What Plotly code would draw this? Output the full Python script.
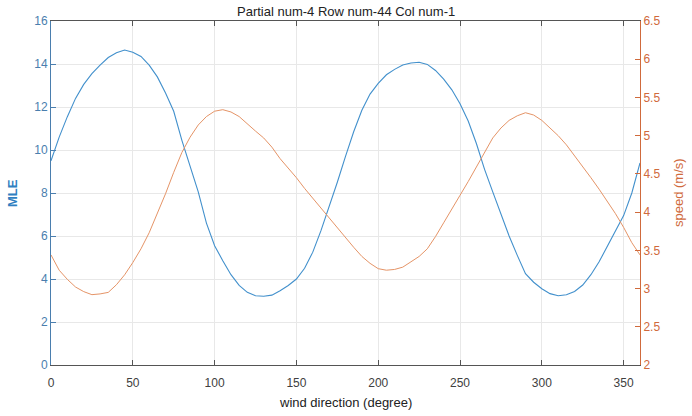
import plotly.graph_objects as go

# wind direction (degree), every 5 degrees
direction = list(range(0, 365, 5))

mle = [9.5, 10.6, 11.55, 12.4, 13.05, 13.55, 13.95, 14.3, 14.52, 14.65,
       14.55, 14.35, 13.95, 13.4, 12.65, 11.8, 10.45, 9.3, 8.05, 6.6,
       5.55, 4.85, 4.2, 3.7, 3.38, 3.22, 3.2, 3.25, 3.45, 3.7,
       4.0, 4.5, 5.25, 6.25, 7.35, 8.5, 9.7, 10.85, 11.85, 12.6,
       13.1, 13.5, 13.75, 13.95, 14.05, 14.08, 13.98, 13.7, 13.3, 12.8,
       12.15, 11.35, 10.3, 9.1, 8.05, 6.98, 6.0, 5.1, 4.25, 3.85,
       3.55, 3.32, 3.22, 3.27, 3.42, 3.72, 4.2, 4.8, 5.5, 6.2,
       6.95, 8.0, 9.4]

speed = [3.44, 3.24, 3.12, 3.02, 2.96, 2.92, 2.93, 2.95, 3.05, 3.18,
         3.34, 3.52, 3.73, 3.98, 4.24, 4.52, 4.78, 4.98, 5.14, 5.25,
         5.32, 5.34, 5.31, 5.25, 5.15, 5.06, 4.97, 4.85, 4.70, 4.58,
         4.45, 4.31, 4.18, 4.05, 3.93, 3.80, 3.66, 3.54, 3.42, 3.33,
         3.26, 3.24, 3.25, 3.28, 3.35, 3.42, 3.52, 3.68, 3.86, 4.05,
         4.22, 4.40, 4.59, 4.78, 4.97, 5.10, 5.20, 5.26, 5.30, 5.27,
         5.20, 5.10, 5.00, 4.88, 4.74, 4.60, 4.45, 4.30, 4.14, 3.98,
         3.80, 3.60, 3.44]

x_ticks = [0, 50, 100, 150, 200, 250, 300, 350]
left_ticks = [0, 2, 4, 6, 8, 10, 12, 14, 16]
right_ticks = [2, 2.5, 3, 3.5, 4, 4.5, 5, 5.5, 6, 6.5]

blue = "#4290cc"
orange = "#e59467"
blue_txt = "#4a7eae"
orange_txt = "#d06a3c"
grid = "#e8e8e8"

fig = go.Figure()
fig.add_trace(go.Scatter(x=direction, y=mle, mode="lines",
                         line=dict(color=blue, width=1.1), yaxis="y"))
fig.add_trace(go.Scatter(x=direction, y=speed, mode="lines",
                         line=dict(color=orange, width=1), yaxis="y2"))

font = "Liberation Sans, Arial, sans-serif"
fig.update_layout(
    width=692, height=416,
    margin=dict(l=51, r=52, t=21, b=51),
    paper_bgcolor="white", plot_bgcolor="white",
    showlegend=False,
    font=dict(family=font, size=12, color="#404040"),
    xaxis=dict(range=[0, 360], tickvals=x_ticks, showgrid=True, gridcolor=grid,
               ticks="inside", ticklen=5, tickcolor="#555555",
               showline=True, linecolor="#555555", linewidth=1, mirror="ticks",
               zeroline=False, automargin=False, ticklabelstandoff=7,
               tickfont=dict(size=12, color="#404040")),
    yaxis=dict(range=[0, 16], tickvals=left_ticks, showgrid=True, gridcolor=grid,
               ticks="inside", ticklen=5, tickcolor=blue_txt,
               showline=True, linecolor=blue_txt, linewidth=1,
               zeroline=False, automargin=False,
               tickfont=dict(size=12, color=blue_txt)),
    yaxis2=dict(range=[2, 6.5], tickvals=right_ticks, overlaying="y", side="right",
                showgrid=False, ticks="inside", ticklen=5, tickcolor=orange_txt,
                showline=True, linecolor=orange_txt, linewidth=1,
                zeroline=False, automargin=False,
                tickfont=dict(size=12, color=orange_txt)),
    annotations=[
        dict(text="Partial num-4 Row num-44 Col num-1", xref="paper", yref="paper",
             x=0.5, y=1, yshift=10, showarrow=False, yanchor="middle",
             font=dict(size=13, color="#222222")),
        dict(text="wind direction (degree)", xref="paper", yref="paper",
             x=0.5, y=0, yshift=-37, showarrow=False, yanchor="middle",
             font=dict(size=13, color="#222222")),
        dict(text="<b>MLE</b>", xref="paper", yref="paper", textangle=-90,
             x=0, xshift=-39, y=0.5, showarrow=False, xanchor="center",
             font=dict(size=13, color="#2f7fc1")),
        dict(text="speed (m/s)", xref="paper", yref="paper", textangle=-90,
             x=1, xshift=38, y=0.5, showarrow=False, xanchor="center",
             font=dict(size=13, color=orange_txt)),
    ],
)

# the page body has a default 8px margin; drop it so the figure fills the window
fig.write_html("out.html", config={"displayModeBar": False},
               post_script="document.body.style.margin='0';")
